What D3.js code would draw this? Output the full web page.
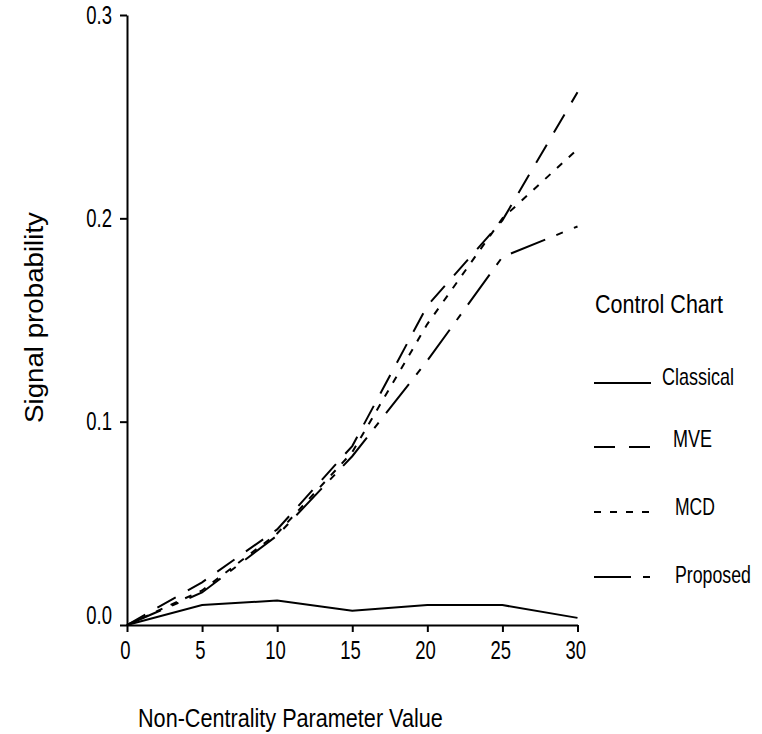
<!DOCTYPE html>
<html>
<head>
<meta charset="utf-8">
<script src="https://cdn.jsdelivr.net/npm/d3@7"></script>
<style>
  html, body { margin: 0; padding: 0; background: #fff; }
  svg { display: block; }
  text { font-family: "Liberation Sans", Arial, Helvetica, sans-serif; fill: #000; }
</style>
</head>
<body>
<svg id="chart" width="762" height="734"></svg>
<script>
// ---- data ----
const ncp = [0, 5, 10, 15, 20, 25, 30];
const classical = [0, 0.0098, 0.012, 0.007, 0.0098, 0.0098, 0.0035];
const mve       = [0, 0.021, 0.047, 0.088, 0.157, 0.199, 0.262];
const mcd       = [0, 0.017, 0.045, 0.085, 0.148, 0.200, 0.234];
const proposed  = [0, 0.016, 0.044, 0.083, 0.130, 0.181, 0.196];
const seriesNames = ["Classical", "MVE", "MCD", "Proposed"];
const xTicks = [0, 5, 10, 15, 20, 25, 30];
const yTicks = [0, 0.1, 0.2, 0.3];
const xTitle = "Non-Centrality Parameter Value";
const yTitle = "Signal probability";
const legendTitle = "Control Chart";

// ---- styling (kept separate from data) ----
const dashes = { Classical: null, MVE: "21,14", MCD: "7,9", Proposed: "37,12,7,12" };
const legendTextX = { Classical: 662, MVE: 673, MCD: 675, Proposed: 675 };
const legendTextY = { Classical: 385, MVE: 447, MCD: 515, Proposed: 583 };
const legendTextW = { Classical: 72, MVE: 39, MCD: 40, Proposed: 76 };
const legendLineY = { Classical: 383, MVE: 447, MCD: 512, Proposed: 577 };
const SX = 0.74;   // horizontal condensing of tick labels

const svg = d3.select("#chart");
const x = d3.scaleLinear().domain([0, 30]).range([127, 577.5]);
const y = d3.scaleLinear().domain([0, 0.3]).range([625, 15]);

const FS = 25;

function narrow(sel) {
  sel.each(function () {
    const t = d3.select(this);
    const tx = +t.attr("x") || 0;
    const ty = +t.attr("y") || 0;
    t.attr("x", 0).attr("y", 0)
     .attr("transform", `translate(${tx},${ty}) scale(${SX},1)`);
  });
}
// place a text at (tx,ty) and condense it horizontally to a given width
function fitText(sel, tx, ty, width, rotate) {
  const node = sel.node();
  const natural = node.getComputedTextLength();
  const k = width / natural;
  sel.attr("x", 0).attr("y", 0)
     .attr("transform", `translate(${tx},${ty})${rotate ? " rotate(" + rotate + ")" : ""} scale(${k},1)`);
}

// axes
const xAxis = svg.append("g").attr("transform", `translate(0,${y(0)})`)
  .call(d3.axisBottom(x).tickValues(xTicks).tickSize(7).tickSizeOuter(0).tickPadding(9).tickFormat(d3.format("d")));
const yAxis = svg.append("g").attr("transform", `translate(${x(0)},0)`)
  .call(d3.axisLeft(y).tickValues(yTicks).tickSize(7).tickSizeOuter(0).tickPadding(8).tickFormat(d3.format(".1f")));

[xAxis, yAxis].forEach(g => {
  g.select(".domain").attr("stroke", "#000").attr("stroke-width", 2);
  g.selectAll(".tick line").attr("stroke", "#000").attr("stroke-width", 2);
  g.selectAll(".tick text").style("font-size", FS + "px").attr("fill", "#000")
    .style("font-family", '"Liberation Sans", Arial, sans-serif');
});
xAxis.selectAll(".tick text").attr("dx", -3);
// the "0.0" label sits just above the x axis
yAxis.selectAll(".tick text").filter(d => d === 0).attr("dy", "-0.08em");
narrow(xAxis.selectAll(".tick text"));
narrow(yAxis.selectAll(".tick text"));

// series
const allSeries = [classical, mve, mcd, proposed];
const line = d3.line().x((d, i) => x(ncp[i])).y(d => y(d));
svg.append("g").selectAll("path").data(allSeries).join("path")
  .attr("d", d => line(d))
  .attr("fill", "none")
  .attr("stroke", "#000")
  .attr("stroke-width", 2)
  .attr("stroke-dasharray", (d, i) => dashes[seriesNames[i]]);

// axis titles
svg.append("text").style("font-size", "25px").text(xTitle)
  .call(fitText, 138, 727, 305);
svg.append("text").attr("text-anchor", "middle").style("font-size", "26px").text(yTitle)
  .call(fitText, 43, 317.5, 211, -90);

// legend
svg.append("text").style("font-size", "26px").text(legendTitle)
  .call(fitText, 595, 313, 128);
const lg = svg.append("g");
seriesNames.forEach(name => {
  lg.append("line")
    .attr("x1", 594).attr("x2", 651)
    .attr("y1", legendLineY[name]).attr("y2", legendLineY[name])
    .attr("stroke", "#000").attr("stroke-width", 2)
    .attr("stroke-dasharray", dashes[name]);
  lg.append("text").style("font-size", "24px").text(name)
    .call(fitText, legendTextX[name], legendTextY[name], legendTextW[name]);
});
</script>
</body>
</html>
